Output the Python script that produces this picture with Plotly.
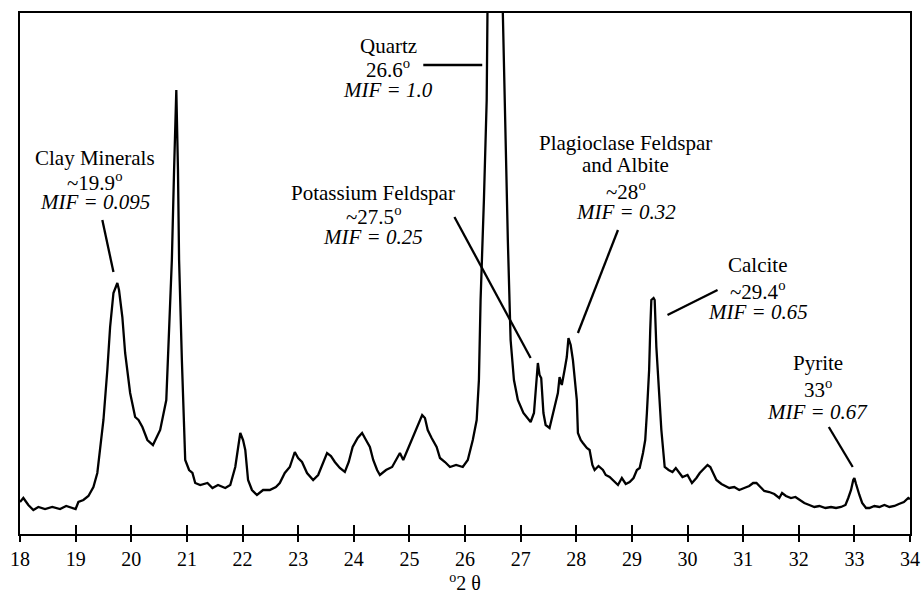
import plotly.graph_objects as go

# XRD pattern (degrees 2-theta, arbitrary intensity)
two_theta = [
    18.00, 18.06, 18.15, 18.24, 18.33, 18.45, 18.58, 18.72, 18.83, 19.00,
    19.05, 19.14, 19.23, 19.32, 19.39, 19.44, 19.50, 19.57, 19.62, 19.68,
    19.75, 19.78, 19.84, 19.89, 19.98, 20.07, 20.13, 20.20, 20.29, 20.39,
    20.52, 20.63, 20.68, 20.73, 20.77, 20.81, 20.84, 20.86, 20.91, 20.97,
    21.04, 21.10, 21.15, 21.24, 21.37, 21.46, 21.56, 21.69, 21.78, 21.87,
    21.92, 21.96, 22.01, 22.05, 22.10, 22.17, 22.26, 22.37, 22.49, 22.60,
    22.67, 22.76, 22.85, 22.94, 23.00, 23.07, 23.16, 23.27, 23.36, 23.43,
    23.52, 23.59, 23.66, 23.75, 23.84, 23.91, 23.98, 24.07, 24.15, 24.22,
    24.29, 24.35, 24.42, 24.47, 24.58, 24.69, 24.78, 24.83, 24.89, 24.97,
    25.06, 25.14, 25.23, 25.28, 25.33, 25.40, 25.49, 25.55, 25.64, 25.73,
    25.84, 25.96, 26.05, 26.14, 26.21, 26.25, 26.28, 26.34, 26.39, 26.41,
    26.50, 26.60, 26.66, 26.68, 26.77, 26.82, 26.88, 26.95, 27.05, 27.13,
    27.18, 27.24, 27.27, 27.31, 27.34, 27.37, 27.41, 27.45, 27.52, 27.58,
    27.63, 27.67, 27.70, 27.74, 27.79, 27.83, 27.86, 27.90, 27.94, 27.97,
    28.01, 28.03, 28.08, 28.12, 28.19, 28.24, 28.29, 28.33, 28.40, 28.48,
    28.53, 28.60, 28.68, 28.75, 28.82, 28.89, 28.96, 29.03, 29.09, 29.14,
    29.20, 29.24, 29.27, 29.31, 29.33, 29.35, 29.39, 29.41, 29.44, 29.48,
    29.53, 29.59, 29.66, 29.73, 29.79, 29.91, 30.00, 30.08, 30.16, 30.22,
    30.29, 30.36, 30.41, 30.47, 30.52, 30.61, 30.68, 30.75, 30.84, 30.93,
    31.02, 31.11, 31.18, 31.24, 31.31, 31.38, 31.47, 31.56, 31.65, 31.70,
    31.77, 31.86, 31.94, 32.01, 32.10, 32.19, 32.28, 32.37, 32.48, 32.58,
    32.67, 32.76, 32.84, 32.89, 32.94, 32.98, 33.00, 33.03, 33.05, 33.09,
    33.14, 33.21, 33.27, 33.36, 33.45, 33.54, 33.63, 33.72, 33.80, 33.89,
    33.97, 34.00,
]
intensity = [
    32, 36, 29, 24, 27, 25, 27, 25, 28, 25,
    32, 34, 38, 47, 61, 84, 114, 164, 207, 241,
    251, 244, 217, 181, 141, 117, 114, 107, 94, 89,
    104, 134, 207, 274, 364, 444, 364, 274, 174, 74,
    64, 61, 51, 49, 51, 46, 49, 46, 49, 67,
    86, 101, 94, 84, 54, 44, 39, 44, 44, 47,
    51, 61, 67, 82, 76, 72, 61, 54, 59, 69,
    81, 78, 72, 66, 62, 72, 87, 96, 101, 94,
    87, 74, 64, 59, 64, 67, 76, 81, 74, 85,
    96, 107, 119, 116, 104, 96, 87, 76, 72, 67,
    69, 67, 74, 94, 114, 154, 234, 334, 434, 560,
    1000, 1000, 600, 521, 294, 194, 154, 134, 121, 116,
    112, 121, 139, 171, 159, 156, 121, 109, 106, 121,
    134, 141, 157, 149, 164, 177, 196, 189, 174, 154,
    134, 101, 94, 91, 86, 84, 69, 64, 68, 64,
    59, 57, 53, 49, 56, 50, 52, 56, 64, 66,
    81, 94, 121, 164, 204, 234, 236, 234, 187, 144,
    104, 67, 64, 62, 66, 57, 59, 51, 56, 61,
    65, 69, 67, 60, 54, 50, 48, 46, 47, 44,
    46, 48, 51, 51, 47, 43, 42, 40, 36, 41,
    38, 36, 37, 34, 31, 29, 27, 28, 26, 27,
    26, 27, 29, 36, 44, 54, 56, 50, 47, 39,
    31, 26, 26, 28, 27, 29, 27, 28, 30, 32,
    36, 35,
]

tick_vals = list(range(18, 35))
tick_text = [str(v) for v in tick_vals]

# Peak labels: (lines, x-centre, y of each line)
labels = [
    (["Clay Minerals", "~19.9<sup>o</sup>", "<i>MIF = 0.095</i>"], 19.34, [376, 353, 332]),
    (["Quartz", "26.6<sup>o</sup>", "<i>MIF = 1.0</i>"], 24.62, [488, 466, 444]),
    (["Potassium Feldspar", "~27.5<sup>o</sup>", "<i>MIF = 0.25</i>"], 24.35, [341, 319, 297]),
    (["Plagioclase Feldspar", "and Albite", "~28<sup>o</sup>", "<i>MIF = 0.32</i>"], 28.89, [391, 369, 344, 322]),
    (["Calcite", "~29.4<sup>o</sup>", "<i>MIF = 0.65</i>"], 31.26, [269, 244, 222]),
    (["Pyrite", "33<sup>o</sup>", "<i>MIF = 0.67</i>"], 32.34, [171, 146, 122]),
]
leaders = [
    (19.48, 314, 19.68, 262),
    (25.25, 469, 26.31, 469),
    (25.81, 317, 27.18, 176),
    (28.75, 304, 28.03, 201),
    (30.54, 244, 29.64, 219),
    (32.54, 107, 32.97, 67),
]

SERIF = "Liberation Serif, Times New Roman, serif"

fig = go.Figure()
fig.add_trace(go.Scatter(x=two_theta, y=intensity, mode="lines",
                         line=dict(color="black", width=2.3), showlegend=False,
                         hoverinfo="skip"))

annotations = []
for lines, xc, ys in labels:
    for txt, yy in zip(lines, ys):
        annotations.append(dict(x=xc, y=yy, xref="x", yref="y", text=txt,
                                showarrow=False, xanchor="center", yanchor="middle",
                                font=dict(family=SERIF, size=21, color="black")))

shapes = [dict(type="line", xref="x", yref="y", x0=a, y0=b, x1=c, y1=d,
               line=dict(color="black", width=2.3)) for a, b, c, d in leaders]

fig.update_layout(
    width=923, height=595,
    margin=dict(l=20, r=13, t=13, b=61, autoexpand=False),
    paper_bgcolor="white", plot_bgcolor="white",
    annotations=annotations, shapes=shapes,
    xaxis=dict(range=[18, 34], tickvals=tick_vals, ticktext=tick_text,
               ticks="outside", ticklen=6, tickwidth=2, tickcolor="black",
               showline=True, linecolor="black", linewidth=2, mirror=True,
               showgrid=False, zeroline=False, automargin=False,
               tickfont=dict(family=SERIF, size=20, color="black"),
               title=dict(text="<sup>o</sup>2 θ", standoff=4,
                          font=dict(family=SERIF, size=20, color="black"))),
    xaxis2=dict(range=[18, 34], overlaying="x", anchor="y", side="bottom",
                tickvals=tick_vals, ticks="inside", ticklen=9, tickwidth=2,
                tickcolor="black", showticklabels=False, showgrid=False,
                zeroline=False, showline=False, automargin=False),
    yaxis=dict(range=[0, 521], showticklabels=False, ticks="",
               showline=True, linecolor="black", linewidth=2, mirror=True,
               showgrid=False, zeroline=False, automargin=False),
)
fig.add_trace(go.Scatter(x=[18, 34], y=[None, None], xaxis="x2", yaxis="y",
                         mode="lines", showlegend=False, hoverinfo="skip"))

fig.write_html("out.html")
